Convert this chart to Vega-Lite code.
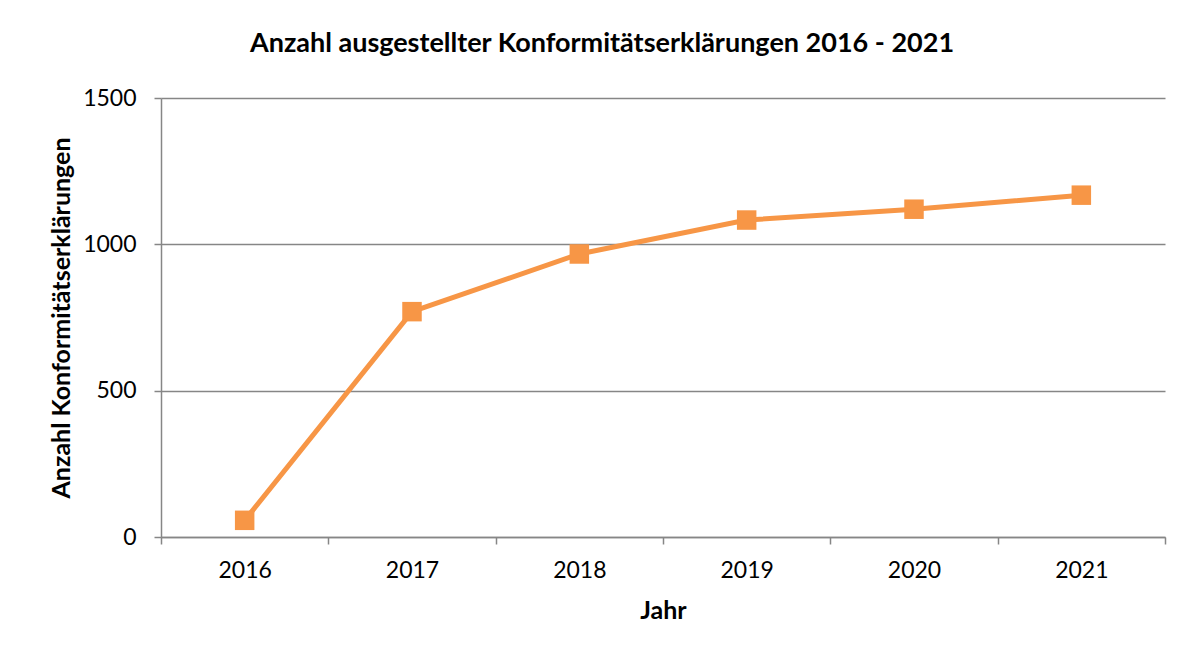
{
  "$schema": "https://vega.github.io/schema/vega-lite/v6.json",
  "width": 1004,
  "height": 439,
  "autosize": {"type": "none"},
  "padding": {"left": 161, "top": 98, "right": 23, "bottom": 118},
  "background": "white",
  "title": {
    "text": "Anzahl ausgestellter Konformitätserklärungen 2016 - 2021",
    "font": "Lato",
    "fontSize": 27,
    "fontWeight": "bold",
    "color": "black",
    "anchor": "middle",
    "frame": "group",
    "baseline": "alphabetic",
    "offset": 8,
    "dx": -61
  },
  "data": {
    "values": [
      {"Jahr": 2016, "Anzahl": 57},
      {"Jahr": 2017, "Anzahl": 770},
      {"Jahr": 2018, "Anzahl": 967},
      {"Jahr": 2019, "Anzahl": 1083},
      {"Jahr": 2020, "Anzahl": 1120},
      {"Jahr": 2021, "Anzahl": 1168}
    ]
  },
  "mark": {
    "type": "line",
    "color": "#F79646",
    "strokeWidth": 5,
    "point": {"shape": "square", "size": 380, "color": "#F79646", "filled": true, "opacity": 1}
  },
  "encoding": {
    "x": {
      "field": "Jahr",
      "type": "quantitative",
      "scale": {"domain": [2015.5, 2021.5], "nice": false, "zero": false},
      "axis": {
        "title": "Jahr",
        "values": [2015.5, 2016.5, 2017.5, 2018.5, 2019.5, 2020.5, 2021.5],
        "labelExpr": "datum.value < 2021 ? format(datum.value + 0.5, 'd') : ''",
        "labelOffset": 83.7,
        "labelOverlap": false,
        "labelFlush": false,
        "labelBound": false,
        "grid": false,
        "tickSize": 7,
        "labelPadding": 15,
        "titlePadding": 16
      }
    },
    "y": {
      "field": "Anzahl",
      "type": "quantitative",
      "scale": {"domain": [0, 1500], "nice": false},
      "axis": {
        "title": "Anzahl Konformitätserklärungen",
        "values": [0, 500, 1000, 1500],
        "format": "d",
        "grid": true,
        "tickSize": 7,
        "labelPadding": 18,
        "titlePadding": 8
      }
    }
  },
  "config": {
    "view": {"stroke": null},
    "axis": {
      "domainColor": "#868686",
      "domainWidth": 1.5,
      "tickColor": "#868686",
      "tickWidth": 1.5,
      "gridColor": "#868686",
      "gridWidth": 1.5,
      "labelFont": "Lato",
      "labelFontSize": 23,
      "labelColor": "black",
      "titleFont": "Lato",
      "titleFontSize": 25,
      "titleFontWeight": "bold",
      "titleColor": "black"
    }
  }
}
